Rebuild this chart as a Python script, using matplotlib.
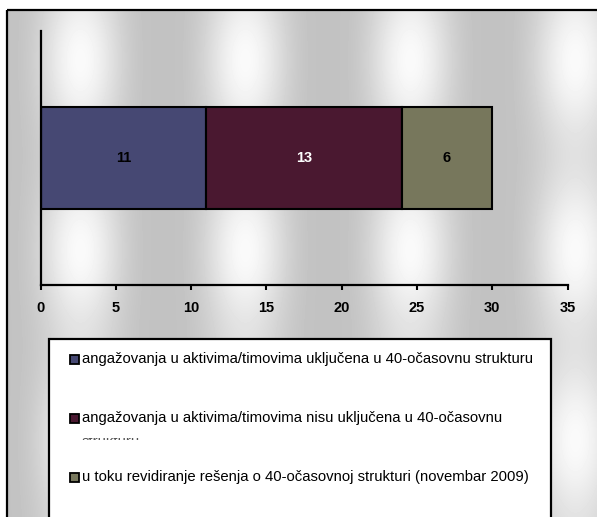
import numpy as np
import matplotlib.pyplot as plt
from matplotlib.patches import Rectangle

plt.rcParams['font.family'] = ['Liberation Sans', 'DejaVu Sans']

W, H = 597, 517

labels = [
    "angažovanja u aktivima/timovima uključena u 40-očasovnu strukturu",
    "angažovanja u aktivima/timovima nisu uključena u 40-očasovnu\nstrukturu",
    "u toku revidiranje rešenja o 40-očasovnoj strukturi (novembar 2009)",
]
values = [11, 13, 6]
colors = ["#464873", "#4a1830", "#77775c"]
value_colors = ["black", "white", "black"]
xticks = [0, 5, 10, 15, 20, 25, 30, 35]


def fx(px):
    return px / W


def fy(py):
    return 1 - py / H


fig = plt.figure(figsize=(W / 100, H / 100), dpi=100)

# silver texture behind the chart area
bg = fig.add_axes([0, 0, 1, 1], zorder=0)
xx, yy = np.meshgrid(np.arange(W), np.arange(H))
hx = (0.5 + 0.5 * np.cos(2 * np.pi * (xx - 80) / 165)) ** 1.6
hy = 0.5 + 0.5 * np.cos(2 * np.pi * (yy - 60) / 190)
tex = 0.76 + 0.22 * hx * (0.55 + 0.45 * hy)
tex[:, :7] = 1.0
tex[:10, :] = 1.0
bg.imshow(tex, cmap="gray", vmin=0, vmax=1, aspect="auto",
          extent=(0, W, H, 0), interpolation="bilinear")
bg.set_xlim(0, W)
bg.set_ylim(H, 0)
bg.axis("off")
bg.add_patch(Rectangle((7, 10), 620, 540, fill=False, edgecolor="black", lw=1.6))

ax = fig.add_axes([fx(40.5), fy(285), fx(567.5) - fx(40.5), fy(31) - fy(285)], zorder=1)
ax.patch.set_alpha(0)

left = 0
for v, c, tc in zip(values, colors, value_colors):
    ax.barh(0, v, left=left, height=0.4, color=c, edgecolor="black", lw=1.5)
    ax.text(left + v / 2, 0, str(v), ha="center", va="center",
            fontsize=10.5, fontweight="bold", color=tc)
    left += v

ax.set_xlim(0, 35)
ax.set_ylim(-0.5, 0.5)
ax.set_xticks(xticks)
ax.set_xticklabels([str(t) for t in xticks], fontsize=10.5, fontweight="bold")
ax.set_yticks([])
ax.tick_params(axis="x", direction="out", length=3.5, width=1.5, pad=8)
for s in ["top", "right"]:
    ax.spines[s].set_visible(False)
for s in ["left", "bottom"]:
    ax.spines[s].set_linewidth(1.6)

# legend box, running off the bottom edge
fig.add_artist(Rectangle((fx(48.5), fy(530)), fx(551) - fx(48.5), fy(338.5) - fy(530),
                         transform=fig.transFigure, facecolor="white",
                         edgecolor="black", lw=1.6, zorder=2))
rows = [359, 418, 477]
for lab, c, py in zip(labels, colors, rows):
    fig.add_artist(Rectangle((fx(69.5), fy(py + 4.5)), fx(9), fy(0) - fy(9),
                             transform=fig.transFigure, facecolor=c,
                             edgecolor="black", lw=1.3, zorder=3))
    first, *rest = lab.split("\n")
    fig.text(fx(82), fy(py), first, fontsize=10.7, va="center", ha="left", zorder=3)
    for extra in rest:
        # wrapped line is cut off by the entry height, only a sliver shows
        t = fig.text(fx(82), fy(446.5), extra, fontsize=10.7, va="baseline",
                     ha="left", zorder=3, color="#555555")
        clip = Rectangle((fx(60), fy(440)), fx(100), fy(438) - fy(440),
                         transform=fig.transFigure, visible=False)
        fig.add_artist(clip)
        t.set_clip_path(clip)

fig.savefig("out.png", dpi=100)
